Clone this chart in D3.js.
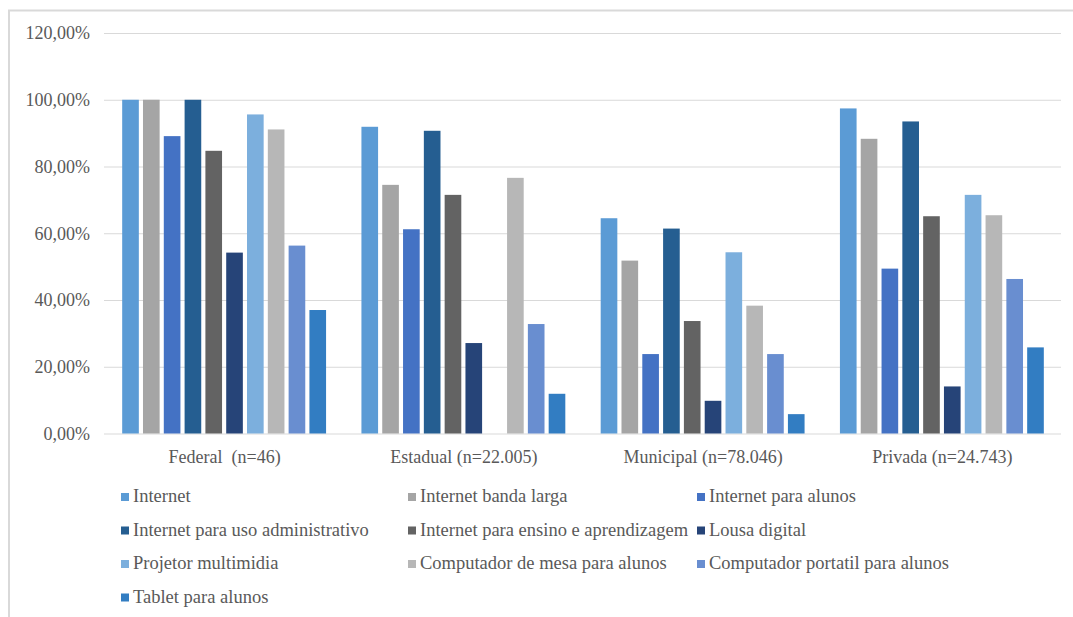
<!DOCTYPE html>
<html>
<head>
<meta charset="utf-8">
<script src="https://cdn.jsdelivr.net/npm/d3@7"></script>
<style>
  body { margin: 0; background: #fff; }
  text { font-family: "Liberation Serif", "Times New Roman", serif; fill: #595959; }
</style>
</head>
<body>
<svg id="viz" width="1073" height="617"></svg>
<script>
// data
const groups = ["Federal  (n=46)", "Estadual (n=22.005)", "Municipal (n=78.046)", "Privada (n=24.743)"]
const series = ["Internet", "Internet banda larga", "Internet para alunos",
  "Internet para uso administrativo", "Internet para ensino e aprendizagem", "Lousa digital",
  "Projetor multimidia", "Computador de mesa para alunos", "Computador portatil para alunos",
  "Tablet para alunos"]
const federal   = [100, 100, 89.1, 100, 84.7, 54.2, 95.6, 91.1, 56.3, 37.0]
const estadual  = [91.9, 74.5, 61.2, 90.7, 71.5, 27.1, 0, 76.6, 32.8, 11.9]
const municipal = [64.5, 51.8, 23.8, 61.4, 33.7, 9.8, 54.3, 38.3, 23.8, 5.8]
const privada   = [97.4, 88.3, 49.4, 93.5, 65.1, 14.1, 71.5, 65.4, 46.3, 25.8]
const yTicks = [0, 20, 40, 60, 80, 100, 120]
const colors = ["#5B9BD5", "#A5A5A5", "#4472C4", "#255E91", "#636363",
  "#264478", "#7CAFDD", "#B7B7B7", "#698ED0", "#327DC2"]

const values = [federal, estadual, municipal, privada]

const svg = d3.select("svg#viz")
const MARGIN = {top: 33, left: 104, right: 12}
const plotW = 1061 - MARGIN.left
const y0 = 433.5

// outer frame
svg.append("path")
  .attr("d", "M9,620 V10.5 H1080")
  .attr("fill", "none").attr("stroke", "#D9D9D9").attr("stroke-width", 2)

const x0 = d3.scaleBand().domain(groups).range([MARGIN.left, MARGIN.left + plotW])
const x1 = d3.scaleBand().domain(series).range([0, x0.bandwidth()])
  .paddingInner(0.2).paddingOuter(0.85)
const y = d3.scaleLinear().domain([0, 120]).range([y0, MARGIN.top])

const fmt = v => d3.format(".2f")(v).replace(".", ",") + "%"

// gridlines + tick labels
const yAxis = d3.axisLeft(y).tickValues(yTicks).tickSize(-plotW).tickFormat(fmt).tickPadding(14)
const ga = svg.append("g").attr("transform", `translate(${MARGIN.left},0)`).call(yAxis)
  .attr("font-family", "Liberation Serif, serif").attr("font-size", 18)
ga.select(".domain").remove()
ga.selectAll(".tick line").attr("stroke", "#D9D9D9").attr("stroke-width", 1)
ga.selectAll(".tick text").attr("fill", "#595959")

// bars
const chart = svg.append("g")
groups.forEach((g, gi) => {
  chart.append("g").attr("transform", `translate(${x0(g)},0)`)
    .selectAll("rect").data(values[gi].map((v, i) => ({v, s: series[i], c: colors[i]})))
    .join("rect")
    .filter(d => d.v > 0)
    .attr("x", d => x1(d.s) + 0.5)
    .attr("width", x1.bandwidth())
    .attr("y", d => y(d.v))
    .attr("height", d => y0 - y(d.v))
    .attr("fill", d => d.c)
})

// category labels
svg.append("g").selectAll("text").data(groups).join("text")
  .attr("x", d => x0(d) + x0.bandwidth() / 2 + 1)
  .attr("y", 463)
  .attr("text-anchor", "middle")
  .attr("font-size", 18)
  .style("white-space", "pre")
  .text(d => d)

// legend, 3 columns
const colX = [121, 408, 697]
const leg = svg.append("g").selectAll("g").data(series).join("g")
  .attr("transform", (d, i) => `translate(${colX[i % 3]},${492 + Math.floor(i / 3) * 33.5})`)
leg.append("rect").attr("width", 8).attr("height", 8).attr("y", 1)
  .attr("fill", (d, i) => colors[i])
leg.append("text").attr("x", 12).attr("y", 10).attr("font-size", 18.5).text(d => d)
</script>
</body>
</html>
